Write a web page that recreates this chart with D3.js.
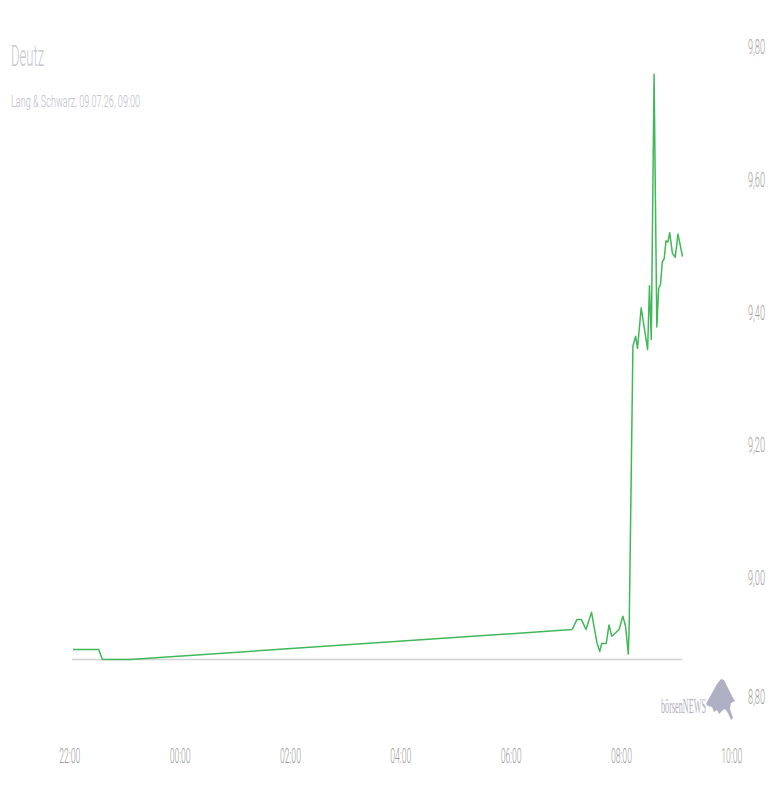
<!DOCTYPE html>
<html>
<head>
<meta charset="utf-8">
<script src="https://cdn.jsdelivr.net/npm/d3@7"></script>
<style>
	body { margin: 0; background: #fff; }
	#graphic { width: 780px; height: 800px; }
	text { font-family: Roboto, "Open Sans", sans-serif; font-weight: 300; }
	.axis .domain, .axis line { display: none; }
	.axis text { fill: #9c9c9c; }
	.x.axis text { font-size: 20px; }
	.y.axis text { font-size: 16px; }
</style>
</head>
<body>
<div id="graphic"></div>
<script>
// intraday quotes (Lang & Schwarz), time of day and price in EUR
const times = ['22:04', '22:32', '22:36', '23:06', '07:07', '07:12', '07:17', '07:22', '07:28', '07:34',
	'07:37', '07:39', '07:44', '07:47', '07:50', '07:58', '08:02', '08:05', '08:08', '08:09',
	'08:13', '08:16', '08:18', '08:22', '08:29', '08:31', '08:33', '08:36', '08:39', '08:41',
	'08:43', '08:45', '08:47', '08:49', '08:51', '08:53', '08:56', '08:59', '09:02', '09:07'];
const prices = [8.892, 8.892, 8.877, 8.877, 8.922, 8.937, 8.937, 8.922, 8.948, 8.901,
	8.889, 8.901, 8.901, 8.929, 8.912, 8.922, 8.942, 8.927, 8.885, 8.931,
	9.349, 9.364, 9.346, 9.407, 9.344, 9.440, 9.359, 9.759, 9.378, 9.436,
	9.442, 9.476, 9.481, 9.508, 9.506, 9.520, 9.489, 9.483, 9.518, 9.484];

const xTickLabels = ['22:00', '00:00', '02:00', '04:00', '06:00', '08:00', '10:00'];
const yTickValues = [8.8, 9.0, 9.2, 9.4, 9.6, 9.8];

const titleText = 'Deutz';
const subtitleText = 'Lang & Schwarz, 09.07.26, 09:00';

let graphic = d3.select('#graphic');

//times before noon belong to the next day
function parseTime(s) {
	let hm = s.split(':').map(Number);
	let day = hm[0] >= 12 ? 8 : 9;
	return new Date(2026, 6, day, hm[0], hm[1]);
}

function drawGraphic() {
	let graphicData = times.map((t, i) => ({ date: parseTime(t), value: prices[i] }));

	const x = d3.scaleTime()
		.domain([parseTime(xTickLabels[0]), parseTime(xTickLabels[xTickLabels.length - 1])])
		.range([69.3, 731.3]);

	const y = d3.scaleLinear()
		.domain([8.8, 9.8])
		.range([710.5, 47]);

	let svg = graphic.append('svg')
		.attr('width', 780)
		.attr('height', 800);

	//title and subtitle
	svg.append('text')
		.attr('x', 11).attr('y', 66)
		.style('font-size', '30px')
		.attr('fill', '#c6c6d2')
		.attr('textLength', 33).attr('lengthAdjust', 'spacingAndGlyphs')
		.text(titleText);

	svg.append('text')
		.attr('x', 11).attr('y', 107)
		.style('font-size', '16px')
		.attr('fill', '#b9b9c5')
		.attr('textLength', 129).attr('lengthAdjust', 'spacingAndGlyphs')
		.text(subtitleText);

	//x axis
	let xAxis = d3.axisBottom(x)
		.tickValues(xTickLabels.map(parseTime))
		.tickSize(0)
		.tickFormat(d3.timeFormat('%H:%M'));

	svg.append('g')
		.attr('class', 'x axis')
		.call(xAxis)
		.selectAll('text')
		.attr('y', 763)
		.attr('dy', null)
		.attr('textLength', 21)
		.attr('lengthAdjust', 'spacingAndGlyphs');

	//y axis on the right, labels kept inside the plot bottom
	let yAxis = d3.axisRight(y)
		.tickValues(yTickValues)
		.tickSize(0)
		.tickPadding(0)
		.tickFormat((d) => d3.format('.2f')(d).replace('.', ','));

	let yAxisG = svg.append('g')
		.attr('class', 'y axis')
		.attr('transform', 'translate(748,0)')
		.call(yAxis);

	yAxisG.selectAll('.tick')
		.attr('transform', (d) => 'translate(0,' + Math.min(y(d), 697) + ')');

	yAxisG.selectAll('text')
		.attr('dy', '0.35em')
		.attr('textLength', 17)
		.attr('lengthAdjust', 'spacingAndGlyphs')
		.style('transform-origin', '0 0')
		.style('transform', 'scale(1,1.3)');

	//reference line at the lowest quote
	let low = d3.min(prices);
	svg.append('line')
		.attr('x1', x(graphicData[0].date) - 1)
		.attr('x2', x(graphicData[graphicData.length - 1].date))
		.attr('y1', y(low))
		.attr('y2', y(low))
		.attr('stroke', '#d2d2d2')
		.attr('stroke-width', 1.5);

	//price line
	let line = d3.line()
		.x((d) => x(d.date))
		.y((d) => y(d.value));

	svg.append('path')
		.datum(graphicData)
		.attr('d', line)
		.attr('fill', 'none')
		.attr('stroke', '#40b857')
		.attr('stroke-width', 1.5)
		.attr('stroke-linejoin', 'round');

	//börsenNEWS logo
	let logo = svg.append('g').attr('class', 'logo');

	logo.append('text')
		.attr('x', 661).attr('y', 713)
		.style('font-family', '"Liberation Serif", "DejaVu Serif", serif')
		.style('font-weight', 400)
		.style('font-size', '16px')
		.style('transform-origin', '661px 713px')
		.style('transform', 'scale(1,1.25)')
		.attr('fill', '#b0b0c0')
		.attr('textLength', 45).attr('lengthAdjust', 'spacingAndGlyphs')
		.text('börsenNEWS');

	logo.append('path')
		.attr('d', 'M706,704 L712,693 L717,684 L721,679 L724,680 L726,684 L729,690 L732,696 L735,701 L733,702 L731,703 L730,709 L733,718 L731,720 L728,713 L725,709 L722,711 L719,714 L717,710 L714,712 L712,707 L708,706 Z')
		.attr('fill', '#b0b0c4');
}

drawGraphic();
</script>
</body>
</html>
